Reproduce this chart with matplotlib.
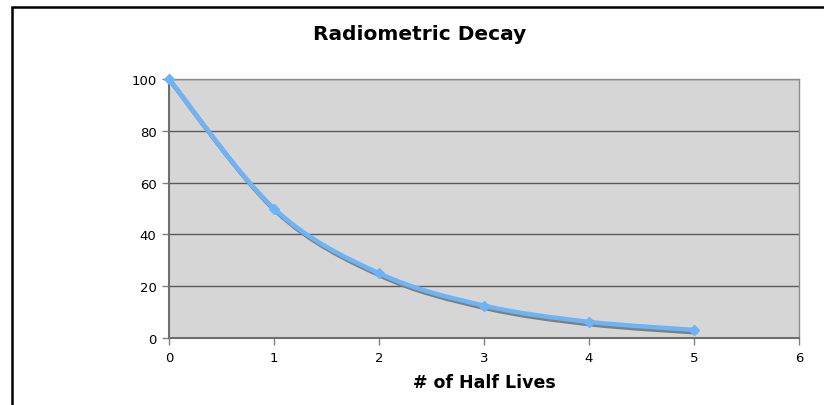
import matplotlib
matplotlib.use("Agg")
import matplotlib.pyplot as plt
from matplotlib.path import Path
from matplotlib.patches import PathPatch, Rectangle
from matplotlib.transforms import offset_copy
import numpy as np

half_lives = [0, 1, 2, 3, 4, 5]
percent_remaining = [100, 50, 25, 12.5, 6.25, 3.125]
x_ticks = [0, 1, 2, 3, 4, 5, 6]
y_ticks = [0, 20, 40, 60, 80, 100]

W, H = 824, 406
fig = plt.figure(figsize=(W / 100, H / 100), dpi=100)
fig.patch.set_facecolor("white")

# outer chart frame
fig.patches.append(Rectangle((11.5 / W, -0.05), 1.1, 1 - 7.5 / H + 0.05,
                             transform=fig.transFigure, fill=False,
                             edgecolor="black", linewidth=1.8, zorder=0))

left, right = 169 / W, 799 / W
bottom, top = 1 - 339 / H, 1 - 80 / H
ax = fig.add_axes([left, bottom, right - left, top - bottom])
ax.set_facecolor("#d6d6d6")
ax.set_xlim(0, 6)
ax.set_ylim(0, 100)
ax.set_xticks(x_ticks)
ax.set_yticks(y_ticks)
ax.tick_params(axis="both", direction="out", length=5, width=1, color="#808080",
               labelsize=9.5, labelcolor="black")
ax.tick_params(axis="x", pad=4)
ax.tick_params(axis="y", pad=4)
for s in ["top", "right"]:
    ax.spines[s].set_color("#8c8c8c")
    ax.spines[s].set_linewidth(1)
for s in ["left", "bottom"]:
    ax.spines[s].set_color("#6e6e6e")
    ax.spines[s].set_linewidth(1.5)
ax.yaxis.grid(True, color="#5a5a5a", linewidth=1)
ax.set_axisbelow(True)

# smoothed (Catmull-Rom style) path through the data, as Excel draws it
xs = np.asarray(half_lives, float)
ys = np.asarray(percent_remaining, float)
verts = [(xs[0], ys[0])]
codes = [Path.MOVETO]
n = len(xs)
for i in range(n - 1):
    p0 = np.array([xs[max(i - 1, 0)], ys[max(i - 1, 0)]])
    p1 = np.array([xs[i], ys[i]])
    p2 = np.array([xs[i + 1], ys[i + 1]])
    p3 = np.array([xs[min(i + 2, n - 1)], ys[min(i + 2, n - 1)]])
    c1 = p1 + (p2 - p0) / 6
    c2 = p2 - (p3 - p1) / 6
    verts += [tuple(c1), tuple(c2), tuple(p2)]
    codes += [Path.CURVE4] * 3
curve = Path(verts, codes)

shadow = PathPatch(curve, fill=False, edgecolor="#7f7f7f", linewidth=3.2,
                   zorder=3, clip_on=False, capstyle="round", joinstyle="round")
shadow.set_transform(offset_copy(ax.transData, fig=fig, x=1.2, y=-1.8, units="points"))
ax.add_patch(shadow)
line = PathPatch(curve, fill=False, edgecolor="#6cb4f8", linewidth=3.2,
                 zorder=4, clip_on=False, capstyle="round", joinstyle="round")
ax.add_patch(line)
ax.plot(half_lives, percent_remaining, linestyle="none", marker="D",
        markersize=5.5, color="#6cb4f8", zorder=5, clip_on=False)

fig.text(420 / W, 1 - 34 / H, "Radiometric Decay", ha="center", va="center",
         fontsize=14.5, fontweight="bold", family="DejaVu Sans")
fig.text(484 / W, 1 - 383 / H, "# of Half Lives", ha="center", va="center",
         fontsize=12.5, fontweight="bold", family="DejaVu Sans")

fig.savefig("out.png", dpi=100, facecolor="white")
